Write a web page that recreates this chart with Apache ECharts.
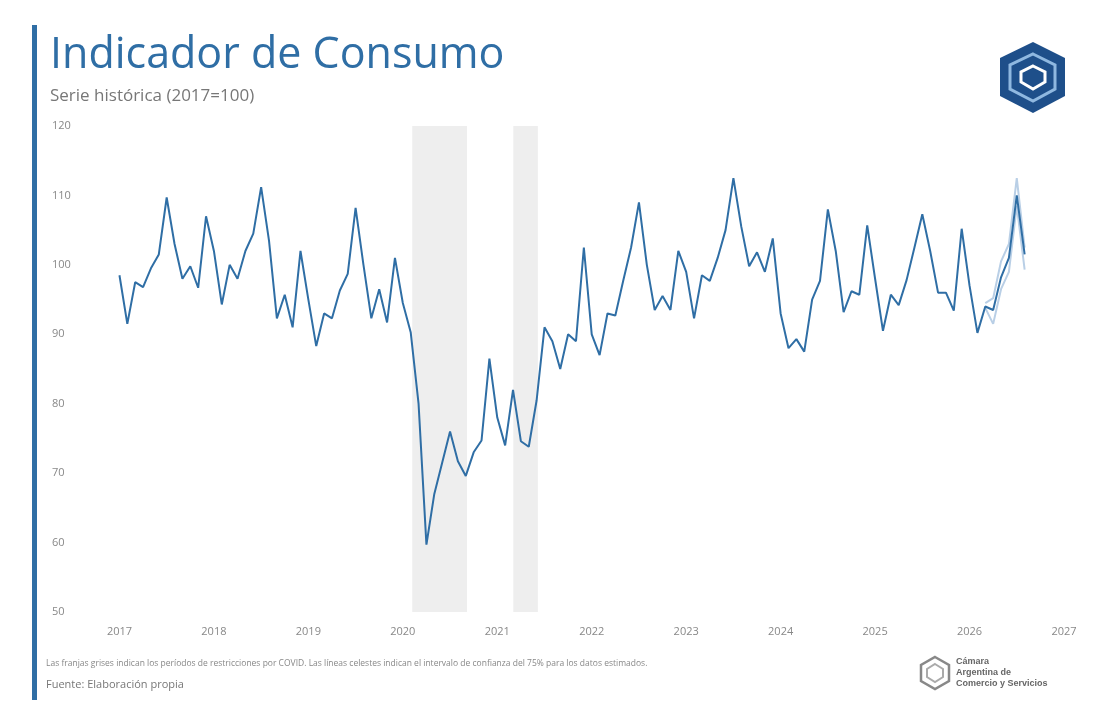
<!DOCTYPE html>
<html>
<head>
<meta charset="utf-8">
<script src="https://cdn.jsdelivr.net/npm/echarts@6/dist/echarts.min.js"></script>
<style>html,body{margin:0;padding:0;background:#fff}#chart{width:1102px;height:716px}</style>
</head>
<body>
<div id="chart"></div>
<script>
// valores mensuales ene-2017 .. ago-2026
const values = [
  98.5, 91.5, 97.5, 96.8, 99.5, 101.5, 109.7, 103, 98, 99.8, 96.7, 107,
  102, 94.3, 100, 98, 102, 104.5, 111.2, 103.5, 92.3, 95.7, 91, 102,
  95, 88.3, 93, 92.3, 96.3, 98.7, 108.2, 100, 92.3, 96.5, 91.7, 101,
  94.5, 90.3, 80, 59.7, 67, 71.5, 76, 71.7, 69.6, 73, 74.7, 86.5,
  78, 74, 82, 74.6, 73.8, 80.5, 91, 89, 85, 90, 89, 102.5,
  90, 87, 93, 92.7, 97.7, 102.5, 109, 100, 93.5, 95.5, 93.5, 102,
  99, 92.3, 98.5, 97.7, 101, 105, 112.5, 105.5, 99.8, 101.8, 99, 103.8,
  93, 88, 89.3, 87.5, 95, 97.7, 108, 102, 93.2, 96.2, 95.7, 105.7,
  98, 90.5, 95.7, 94.2, 97.8, 102.5, 107.3, 102, 96, 96, 93.4, 105.2,
  97, 90.2, 94, 93.5, 98.2, 101, 110, 101.5
];
// intervalo de confianza (mar-2026 .. ago-2026)
const ciLower = [93.8, 91.5, 96.5, 99, 108.5, 99.3];
const ciUpper = [94.5, 95.2, 100.5, 103, 112.5, 102.5];
// franjas COVID (año decimal)
const covidBands = [[2020.1, 2020.68], [2021.17, 2021.43]];

// eje x en años decimales: ene-2017 = 2017.0
const mainData = values.map((v, i) => [2017 + i / 12, v]);
const ciOffset = (2026 - 2017) * 12 + 2;
const lowerData = ciLower.map((v, i) => [mainData[ciOffset + i][0], v]);
const upperData = ciUpper.map((v, i) => [mainData[ciOffset + i][0], v]);

const chart = echarts.init(document.getElementById('chart'));
const blue = '#2f6ea5';
const light = '#b9cfe6';
const font = 'Open Sans';

chart.setOption({
  animation: false,
  textStyle: { fontFamily: font },
  grid: { left: 25, right: 38, top: 126, bottom: 104 },
  xAxis: {
    type: 'value', min: 2016, max: 2027, interval: 1,
    splitLine: { show: false },
    axisLine: { show: false },
    axisTick: { show: false },
    axisLabel: {
      color: '#888', fontSize: 11, margin: 14,
      formatter: v => v === 2016 ? '' : String(v)
    }
  },
  yAxis: {
    type: 'value', min: 50, max: 120, interval: 10,
    splitLine: { show: false },
    axisLine: { show: false },
    axisTick: { show: false },
    axisLabel: { color: '#888', fontSize: 11, inside: true, margin: 27 }
  },
  series: [
    {
      type: 'line', data: mainData, symbol: 'none', z: 3,
      lineStyle: { color: blue, width: 2 },
      markArea: {
        silent: true,
        itemStyle: { color: '#eeeeee' },
        data: covidBands.map(b => [{ xAxis: b[0] }, { xAxis: b[1] }])
      }
    },
    { type: 'line', data: lowerData, symbol: 'none', z: 2, lineStyle: { color: light, width: 2 } },
    { type: 'line', data: upperData, symbol: 'none', z: 2, lineStyle: { color: light, width: 2 } }
  ],
  graphic: [
    { type: 'rect', shape: { x: 32, y: 25, width: 5, height: 675 }, style: { fill: '#2f6ea5' } },
    { type: 'text', left: 50, top: 34, style: { text: 'Indicador de Consumo', fontSize: 43, fontWeight: 500, fill: '#2f6ea5', fontFamily: font } },
    { type: 'text', left: 50, top: 88, style: { text: 'Serie histórica (2017=100)', fontSize: 17, fill: '#777', fontFamily: font } },
    { type: 'text', left: 46, top: 659, style: { text: 'Las franjas grises indican los períodos de restricciones por COVID. Las líneas celestes indican el intervalo de confianza del 75% para los datos estimados.', fontSize: 8.5, fill: '#888', fontFamily: font } },
    { type: 'text', left: 46, top: 679, style: { text: 'Fuente: Elaboración propia', fontSize: 11, fill: '#777', fontFamily: font } },
    // logo superior
    { type: 'polygon', shape: { points: [[1033, 42], [1065, 58], [1065, 96], [1033, 113], [1000, 96], [1000, 58]] }, style: { fill: '#1e4f8a' } },
    { type: 'polygon', shape: { points: [[1033, 54], [1055, 65], [1055, 89], [1033, 101], [1010, 89], [1010, 65]] }, style: { fill: 'none', stroke: '#8fb8e0', lineWidth: 3 } },
    { type: 'polygon', shape: { points: [[1033, 66], [1045, 72], [1045, 82], [1033, 89], [1021, 82], [1021, 72]] }, style: { fill: 'none', stroke: '#fff', lineWidth: 3 } },
    // logo inferior
    { type: 'polygon', shape: { points: [[935, 657], [949, 665], [949, 681], [935, 689], [921, 681], [921, 665]] }, style: { fill: 'none', stroke: '#888', lineWidth: 2.5 } },
    { type: 'polygon', shape: { points: [[935, 664], [943, 669], [943, 677], [935, 682], [927, 677], [927, 669]] }, style: { fill: 'none', stroke: '#aaa', lineWidth: 2 } },
    { type: 'text', left: 956, top: 656, style: { text: 'Cámara\nArgentina de\nComercio y Servicios', fontSize: 9, lineHeight: 11, fontWeight: 'bold', fill: '#666', fontFamily: 'Liberation Sans' } }
  ]
});
</script>
</body>
</html>
